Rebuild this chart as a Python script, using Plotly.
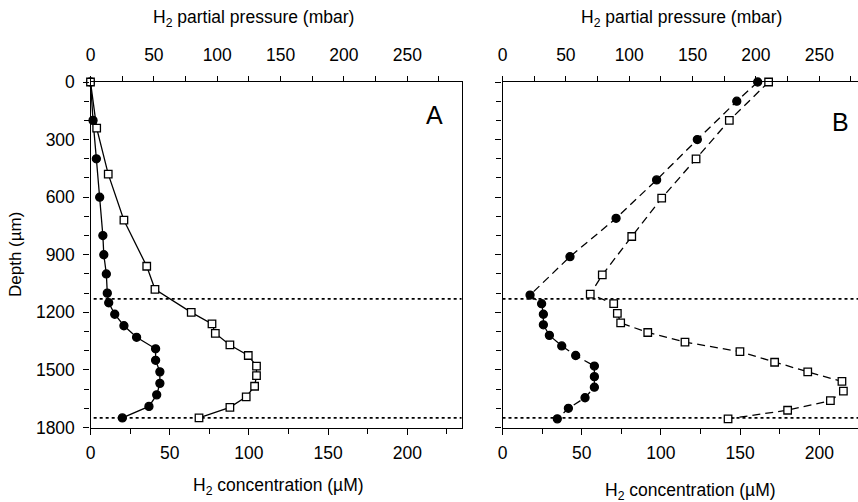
import plotly.graph_objects as go

# ---------------- data ----------------
# Panel A
a_circ_depth = [0, 200, 400, 600, 800, 900, 1000, 1100, 1150, 1210, 1270, 1330, 1390, 1450, 1510, 1570, 1630, 1690, 1750]
a_circ_conc = [0, 1.6, 3.7, 5.8, 7.8, 8.4, 10.0, 10.6, 11.5, 15.3, 21.1, 29.1, 41.1, 41.1, 43.8, 43.8, 41.8, 36.9, 20.1]
a_sq_depth = [0, 240, 480, 720, 960, 1080, 1200, 1260, 1310, 1370, 1425, 1480, 1530, 1585, 1640, 1695, 1750]
a_sq_conc = [0, 3.9, 11.2, 21.1, 35.5, 40.7, 63.6, 76.7, 78.8, 88.0, 99.6, 104.8, 104.8, 103.6, 98.3, 88.0, 68.5]
# Panel B
b_circ_depth = [0, 100, 300, 510, 710, 910, 1110, 1155, 1210, 1265, 1320, 1375, 1425, 1480, 1535, 1590, 1645, 1700, 1755]
b_circ_conc = [161.1, 147.9, 123.0, 97.3, 71.7, 42.6, 17.4, 24.7, 25.8, 25.8, 29.6, 37.4, 46.2, 58.0, 58.0, 58.0, 52.1, 41.6, 34.6]
b_sq_depth = [0, 200, 400, 605, 805, 1005, 1105, 1155, 1205, 1255, 1305, 1355, 1405, 1460, 1510, 1560, 1610, 1660, 1710, 1755]
b_sq_conc = [168.0, 143.2, 122.2, 100.5, 81.6, 63.0, 55.4, 70.2, 72.5, 74.6, 91.7, 115.2, 149.9, 171.8, 192.7, 214.3, 215.2, 207.0, 180.0, 142.4]
# boundaries (dotted lines)
boundary_depths = [1130, 1750]

conc_ticks = [0, 50, 100, 150, 200]
press_ticks = [0, 50, 100, 150, 200, 250]
depth_ticks = [0, 300, 600, 900, 1200, 1500, 1800]
MBAR_PER_UM = 1.25  # 200 uM <-> 250 mbar on the paired axes

# ---------------- geometry ----------------
W, H = 858, 502
def px(x):
    return x / W
def py(y):
    return 1 - y / H

A_x0, A_x1 = 90.5, 461.5
B_x0, B_x1 = 502.5, 858
SCALE = 1.584  # px per uM
A_range = [0, (A_x1 - A_x0) / SCALE]
B_range = [0, (B_x1 - B_x0) / SCALE]
ydom = [py(427.5), py(82)]

FONT = "Liberation Sans, Arial, sans-serif"
BLACK = "#000000"

fig = go.Figure()

def add_profile(xa, ya, conc, depth, symbol, dash):
    fig.add_trace(go.Scatter(
        x=conc, y=depth, xaxis=xa, yaxis=ya, mode="lines+markers",
        line=dict(color=BLACK, width=1.3, dash=dash),
        marker=dict(symbol=symbol, size=8 if symbol == "circle" else 7.5,
                    color=BLACK if symbol == "circle" else "white",
                    line=dict(color=BLACK, width=1.3)),
        showlegend=False, cliponaxis=False))

# dotted boundaries
for d in boundary_depths:
    fig.add_trace(go.Scatter(x=[2, A_range[1] + 2.5], y=[d, d], xaxis="x", yaxis="y",
                             mode="lines", line=dict(color=BLACK, width=1.8, dash="3px,3px"),
                             showlegend=False, cliponaxis=False))
    fig.add_trace(go.Scatter(x=[0, B_range[1]], y=[d, d], xaxis="x3", yaxis="y2",
                             mode="lines", line=dict(color=BLACK, width=1.8, dash="3px,3px"),
                             showlegend=False, cliponaxis=False))

add_profile("x", "y", a_circ_conc, a_circ_depth, "circle", "solid")
add_profile("x", "y", a_sq_conc, a_sq_depth, "square", "solid")
add_profile("x3", "y2", b_circ_conc, b_circ_depth, "circle", "8px,5px")
add_profile("x3", "y2", b_sq_conc, b_sq_depth, "square", "8px,5px")

# dummy traces for top axes
fig.add_trace(go.Scatter(x=[None], y=[None], xaxis="x2", yaxis="y", showlegend=False))
fig.add_trace(go.Scatter(x=[None], y=[None], xaxis="x4", yaxis="y2", showlegend=False))

tickfont = dict(family=FONT, size=17.5, color=BLACK)

def xaxis_bottom(dom, rng, anchor):
    return dict(domain=dom, range=rng, anchor=anchor, side="bottom",
                showline=True, linecolor=BLACK, linewidth=1.3,
                tickmode="array", tickvals=conc_ticks, ticks="outside", ticklen=6,
                tickcolor=BLACK, tickwidth=1.2, tickfont=tickfont, ticklabelstandoff=3,
                minor=dict(tickmode="array", tickvals=[25, 75, 125, 175, 225],
                           ticks="outside", ticklen=5, tickcolor=BLACK, tickwidth=1.2),
                showgrid=False, zeroline=False, fixedrange=True, automargin=False)

def xaxis_top(rng, overlay, anchor):
    return dict(range=rng, overlaying=overlay, anchor=anchor, side="top",
                showline=True, linecolor=BLACK, linewidth=1.3,
                tickmode="array", tickvals=press_ticks, ticks="outside", ticklen=5,
                tickcolor=BLACK, tickwidth=1.2, tickfont=tickfont, ticklabelstandoff=8,
                minor=dict(tickmode="array", tickvals=[25, 75, 125, 175, 225, 275],
                           ticks="outside", ticklen=5, tickcolor=BLACK, tickwidth=1.2),
                showgrid=False, zeroline=False, fixedrange=True, automargin=False)

def yaxis(anchor, labels, mirror):
    return dict(domain=ydom, range=[1800, 0], anchor=anchor,
                showline=True, linecolor=BLACK, linewidth=1.3, mirror=mirror,
                tickmode="array", tickvals=depth_ticks, showticklabels=labels,
                ticks="outside", ticklen=6, tickcolor=BLACK, tickwidth=1.2, tickfont=tickfont,
                ticklabelstandoff=5,
                minor=dict(tickmode="array", tickvals=[100, 200, 400, 500, 700, 800, 1000, 1100,
                                                       1300, 1400, 1600, 1700],
                           ticks="outside", ticklen=5, tickcolor=BLACK, tickwidth=1.2),
                showgrid=False, zeroline=False, fixedrange=True, automargin=False)

fig.update_layout(
    width=W, height=H, margin=dict(l=0, r=0, t=0, b=0, autoexpand=False),
    paper_bgcolor="white", plot_bgcolor="white",
    font=dict(family=FONT, color=BLACK),
    xaxis=xaxis_bottom([px(A_x0), px(A_x1)], A_range, "y"),
    xaxis2=xaxis_top([A_range[0] * MBAR_PER_UM, A_range[1] * MBAR_PER_UM], "x", "y"),
    xaxis3=xaxis_bottom([px(B_x0), px(B_x1)], B_range, "y2"),
    xaxis4=xaxis_top([B_range[0] * MBAR_PER_UM, B_range[1] * MBAR_PER_UM], "x3", "y2"),
    yaxis=yaxis("x", True, True),
    yaxis2=yaxis("x3", False, False),
)

def label(text, x, y, size, angle=0):
    return dict(text=text, x=px(x), y=py(y), xref="paper", yref="paper",
                xanchor="center", yanchor="middle", textangle=angle,
                showarrow=False, font=dict(family=FONT, size=size, color=BLACK))

ann = [
    label("H<sub>2</sub> partial pressure (mbar)", 253, 19, 17.5),
    label("H<sub>2</sub> partial pressure (mbar)", 681, 19, 17.5),
    label("H<sub>2</sub> concentration (µM)", 278, 486, 17.5),
    label("H<sub>2</sub> concentration (µM)", 690, 491, 17.5),
    label("Depth (µm)", 15, 255, 17),
    label("A", 434, 115, 25),
    label("B", 840, 122, 25),
]
ann[4]["textangle"] = -90
fig.update_layout(annotations=ann)

fig.write_html("out.html")
